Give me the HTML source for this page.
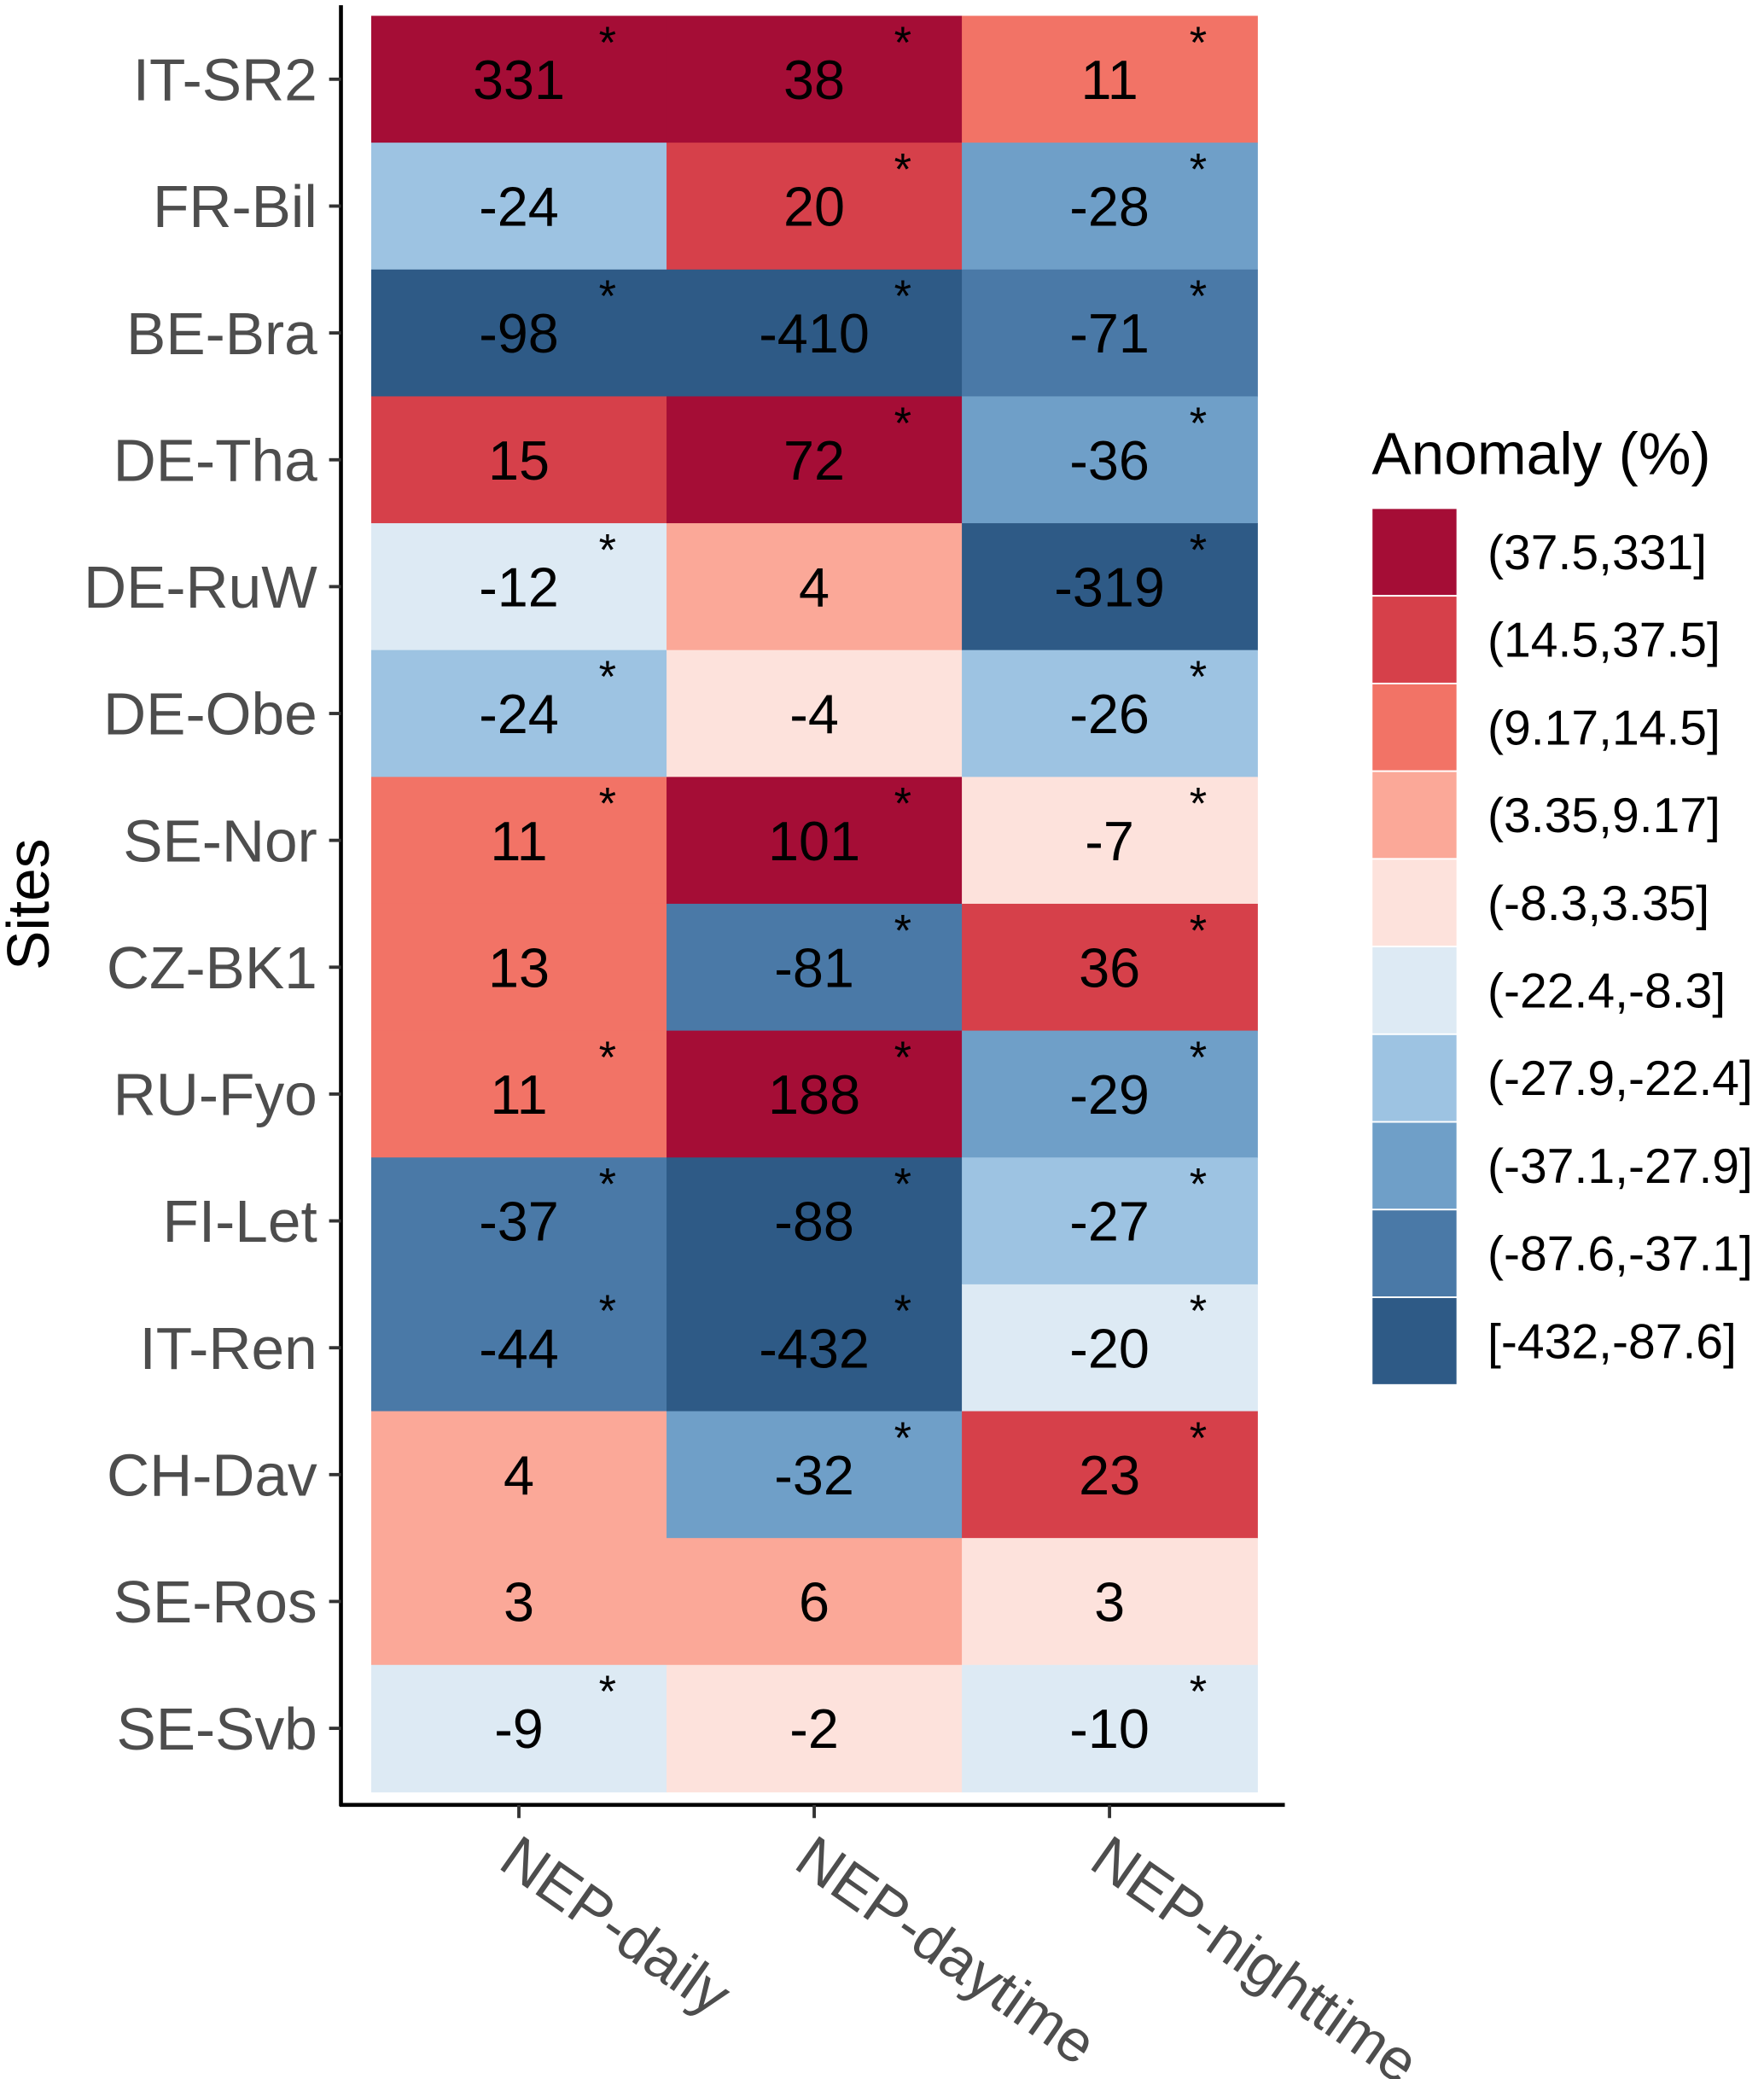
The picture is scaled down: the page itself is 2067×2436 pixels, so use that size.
<!DOCTYPE html>
<html><head><meta charset="utf-8"><style>
html,body{margin:0;padding:0;background:#fff;}
svg{display:block;font-family:"Liberation Sans",Arial,sans-serif;}
</style></head><body>
<svg id="chart" width="2067" height="2436" viewBox="0 0 1340 1579.2" preserveAspectRatio="none" xmlns="http://www.w3.org/2000/svg">
<g id="tiles"></g>
<g id="axes"></g>
<g id="legend"></g>
</svg>
<script>
const sites = ["IT-SR2","FR-Bil","BE-Bra","DE-Tha","DE-RuW","DE-Obe","SE-Nor","CZ-BK1","RU-Fyo","FI-Let","IT-Ren","CH-Dav","SE-Ros","SE-Svb"];
const metrics = ["NEP-daily","NEP-daytime","NEP-nighttime"];
const nepDaily = [331,-24,-98,15,-12,-24,11,13,11,-37.2,-44,4,3.4,-9];
const nepDaytime = [38,20,-410,72,4,-4,101,-81,188,-88,-432,-32,6,-2];
const nepNighttime = [11,-28,-71,-36,-319,-26,-7,36,-29,-27,-20,23,3,-10];
const sigDaily = [1,0,1,0,1,1,1,0,1,1,1,0,0,1];
const sigDaytime = [1,1,1,1,0,0,1,1,1,1,1,1,0,0];
const sigNighttime = [1,1,1,1,1,1,1,1,1,1,1,1,0,1];
const binBreaks = [37.5,14.5,9.17,3.35,-8.3,-22.4,-27.9,-37.1,-87.6];
const binLabels = ["(37.5,331]","(14.5,37.5]","(9.17,14.5]","(3.35,9.17]","(-8.3,3.35]","(-22.4,-8.3]","(-27.9,-22.4]","(-37.1,-27.9]","(-87.6,-37.1]","[-432,-87.6]"];
const binColors = ["#a50d36","#d6404a","#f27366","#fba898","#fde2dc","#ddeaf4","#9dc3e2","#6f9fc8","#4a79a7","#2e5a86"];

const NS="http://www.w3.org/2000/svg";
function mk(tag, attrs, parent){const e=document.createElementNS(NS,tag);for(const k in attrs)e.setAttribute(k,attrs[k]);parent.appendChild(e);return e;}
const X0=282, X1=955, Y0=12, Y1=1361;
const colW=(X1-X0)/metrics.length, rowH=(Y1-Y0)/sites.length;
function xLeft(i){return X0+i*colW;}
function yTop(j){return Y0+j*rowH;}
function binOf(v){for(let i=0;i<binBreaks.length;i++){if(v>binBreaks[i])return i;}return binBreaks.length;}

const series=[nepDaily,nepDaytime,nepNighttime];
const sigs=[sigDaily,sigDaytime,sigNighttime];
const tiles=document.getElementById('tiles');
series.forEach((vals,i)=>{
  vals.forEach((v,j)=>{
    const r=mk('rect',{x:xLeft(i),y:yTop(j),width:colW+0.5,height:rowH+0.5,fill:binColors[binOf(v)]},tiles);
    
    
    const t=mk('text',{x:xLeft(i)+colW/2,y:yTop(j)+rowH/2+15,'text-anchor':'middle','font-size':42,fill:'#000'},tiles);
    t.textContent=String(Math.round(v));
    
    
    if(sigs[i][j]){
      const s=mk('text',{x:xLeft(i)+colW*0.8,y:yTop(j)+32,'text-anchor':'middle','font-size':34,fill:'#000'},tiles);
      s.textContent='*';
      
      
    }
  });
});

const axes=document.getElementById('axes');
const yl=mk('line',{x1:259,y1:4,x2:259,y2:1372,stroke:'#000','stroke-width':3},axes);

const xl=mk('line',{x1:258,y1:1371,x2:976,y2:1371,stroke:'#000','stroke-width':3},axes);

sites.forEach((s,j)=>{
  const cy=yTop(j)+rowH/2;
  mk('line',{x1:250,y1:cy,x2:259,y2:cy,stroke:'#333','stroke-width':2.5},axes);
  const t=mk('text',{x:241,y:cy+16,'text-anchor':'end','font-size':45,fill:'#4d4d4d'},axes);
  t.textContent=s;
  
  
});
metrics.forEach((m,i)=>{
  const cx=xLeft(i)+colW/2;
  mk('line',{x1:cx,y1:1371,x2:cx,y2:1381,stroke:'#333','stroke-width':2.5},axes);
  const t=mk('text',{x:0,y:0,'font-size':45,fill:'#4d4d4d',transform:`translate(${cx-17},${1418}) rotate(35)`},axes);
  t.textContent=m;
  
  
});
const yt=mk('text',{x:0,y:0,'font-size':45,fill:'#000','text-anchor':'middle',transform:'translate(37,687) rotate(-90)'},axes);
yt.textContent='Sites';



const lg=document.getElementById('legend');
const lt=mk('text',{x:1042,y:360,'font-size':45,fill:'#000'},lg);
lt.textContent='Anomaly (%)';


const kH=66.6;
binLabels.forEach((lab,k)=>{
  const y=386+k*kH;
  const r=mk('rect',{x:1042,y:y,width:65,height:kH,fill:binColors[k],stroke:'#fff','stroke-width':1.2},lg);
  
  
  const t=mk('text',{x:1130,y:y+kH/2+13,'font-size':37,fill:'#000'},lg);
  t.textContent=lab;
  
  
});
</script>
</body></html>
